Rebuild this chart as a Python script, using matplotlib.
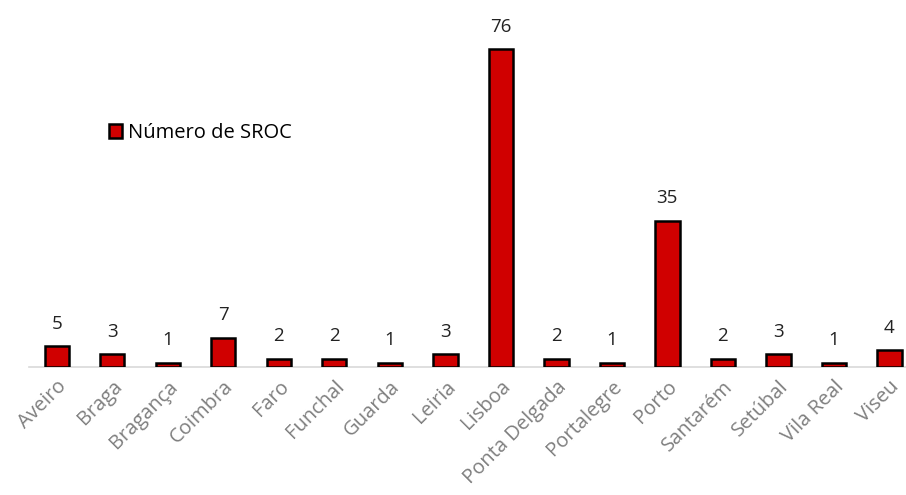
import matplotlib
matplotlib.use('Agg')
import matplotlib.pyplot as plt

# data
cidades = ['Aveiro', 'Braga', 'Bragança', 'Coimbra', 'Faro', 'Funchal', 'Guarda', 'Leiria',
           'Lisboa', 'Ponta Delgada', 'Portalegre', 'Porto', 'Santarém', 'Setúbal',
           'Vila Real', 'Viseu']
num_sroc = [5, 3, 1, 7, 2, 2, 1, 3, 76, 2, 1, 35, 2, 3, 1, 4]

plt.rcParams['font.family'] = ['Open Sans', 'DejaVu Sans']

fig = plt.figure(figsize=(9.06, 4.95), dpi=100)
ax = fig.add_axes([29 / 906, (495 - 367) / 495, 877 / 906, 347 / 495])

x = list(range(len(cidades)))
bars = ax.bar(x, num_sroc, width=0.44, color='#d00000', edgecolor='black',
              linewidth=1.8, label='Número de SROC', zorder=3)

for xi, v in zip(x, num_sroc):
    ax.text(xi, v + 3.2, str(v), ha='center', va='bottom', fontsize=13.5, color='#222222')

ax.set_xlim(-0.5, 15.3)
ax.set_ylim(0, 83)
ax.set_xticks(x)
ax.set_xticklabels(cidades, rotation=45, ha='right', rotation_mode='anchor',
                   fontsize=14.5, color='#7f7f7f')
ax.tick_params(axis='x', length=0, pad=7)
ax.set_yticks([])
for s in ['top', 'right', 'left']:
    ax.spines[s].set_visible(False)
ax.spines['bottom'].set_color('#d9d9d9')
ax.spines['bottom'].set_linewidth(1.2)

leg = ax.legend(loc='upper left', bbox_to_anchor=(0.07, 0.755), frameon=False,
                fontsize=14.5, handlelength=0.65, handleheight=0.65, handletextpad=0.3)

fig.savefig('out.png', dpi=100)
